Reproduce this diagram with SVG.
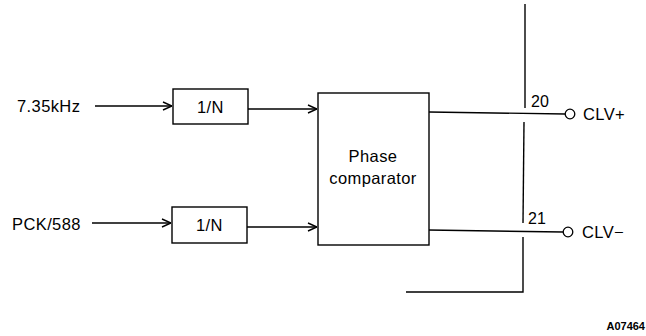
<svg xmlns="http://www.w3.org/2000/svg" width="646" height="336" viewBox="0 0 646 336">
<style>
.t{font-family:"Liberation Sans",Arial,sans-serif;font-size:16.5px;letter-spacing:0.4px;fill:#000}
.s{font-size:16px;letter-spacing:0}
.b{fill:#fff;stroke:#000;stroke-width:1.4}
.l{fill:none;stroke:#000;stroke-width:1.4}
</style>
<defs>
<marker id="a" viewBox="0 0 10 10" refX="10" refY="5" markerWidth="10" markerHeight="10" markerUnits="userSpaceOnUse" orient="auto">
<path d="M1,1 L10,5 L1,9" fill="none" stroke="#000" stroke-width="1.4"/>
</marker>
</defs>
<rect width="646" height="336" fill="#fff"/>
<g id="connectors">
<line class="l" x1="95" y1="106" x2="172" y2="106" marker-end="url(#a)"/>
<line class="l" x1="248" y1="109" x2="317" y2="109" marker-end="url(#a)"/>
<line class="l" x1="92" y1="223" x2="171" y2="223" marker-end="url(#a)"/>
<line class="l" x1="247" y1="227" x2="317" y2="227" marker-end="url(#a)"/>
<line class="l" x1="429" y1="112" x2="565" y2="114"/>
<line class="l" x1="428" y1="230" x2="563" y2="232"/>
<polyline class="l" points="525,4 525,108"/>
<polyline class="l" points="524,122 523,223"/>
<polyline class="l" points="523,237 523,292 406,292"/>
</g>
<g id="in1"><text class="t" x="17" y="112">7.35kHz</text></g>
<g id="in2"><text class="t" x="12" y="230">PCK/588</text></g>
<g id="div1"><rect class="b" x="173" y="89" width="75" height="35"/><text class="t" x="210.5" y="113" text-anchor="middle">1/N</text></g>
<g id="div2"><rect class="b" x="172" y="207" width="75" height="36"/><text class="t" x="209.5" y="231" text-anchor="middle">1/N</text></g>
<g id="pc"><rect class="b" x="318" y="93" width="111" height="152"/><text class="t" x="373" y="162" text-anchor="middle">Phase</text><text class="t" x="373" y="184" text-anchor="middle">comparator</text></g>
<g id="p20"><text class="t s" x="531" y="107">20</text></g>
<g id="p21"><text class="t s" x="528" y="224">21</text></g>
<g id="clvp"><circle cx="570" cy="114" r="4.8" fill="#fff" stroke="#000" stroke-width="1.3"/><text class="t" x="583" y="120">CLV+</text></g>
<g id="clvm"><circle cx="568" cy="232" r="4.8" fill="#fff" stroke="#000" stroke-width="1.3"/><text class="t" x="582" y="238">CLV−</text></g>
<text x="645" y="330" text-anchor="end" font-family="Liberation Sans,Arial,sans-serif" font-size="11" font-weight="bold">A07464</text>
</svg>
